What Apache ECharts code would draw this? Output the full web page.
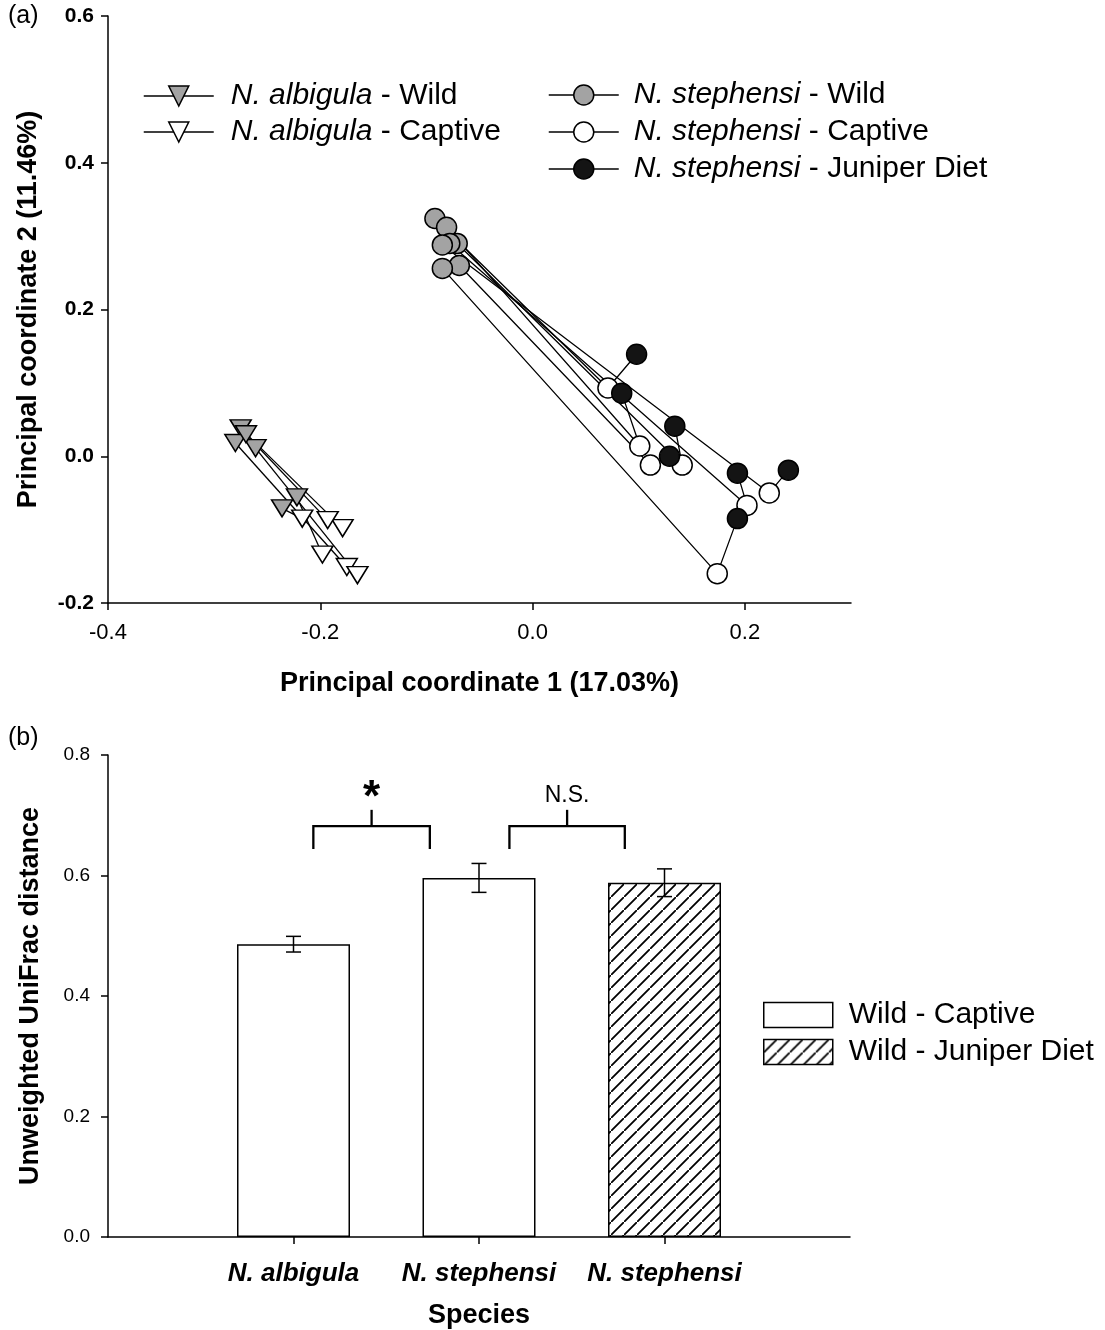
<!DOCTYPE html>
<html><head><meta charset="utf-8">
<script src="https://cdn.jsdelivr.net/npm/echarts@6/dist/echarts.min.js"></script>
<style>html,body{margin:0;padding:0;background:#fff}#c{width:1105px;height:1330px}</style>
</head><body><div id="c"></div>
<script>
// ---------- Panel (a) data: PCoA coordinates ----------
const albWild    = [[-0.275,0.038],[-0.280,0.018],[-0.261,0.011],[-0.270,0.030],[-0.222,-0.056],[-0.236,-0.071]];
const albCaptive = [[-0.179,-0.098],[-0.175,-0.151],[-0.165,-0.162],[-0.193,-0.087],[-0.198,-0.134],[-0.217,-0.085]];
const stWild     = [[-0.092,0.324],[-0.081,0.312],[-0.069,0.260],[-0.071,0.290],[-0.078,0.290],[-0.085,0.288],[-0.085,0.256]];
const stCaptive  = [[0.071,0.093],[0.101,0.014],[0.111,-0.012],[0.141,-0.012],[0.202,-0.067],[0.223,-0.050],[0.174,-0.160]];
const stJuniper  = [[0.098,0.139],[0.084,0.086],[0.129,0.000],[0.134,0.041],[0.193,-0.023],[0.241,-0.019],[0.193,-0.085]];
const pcoaXTicks = [-0.4,-0.2,0.0,0.2];
const groupNames = ['N. albigula - Wild','N. albigula - Captive','N. stephensi - Wild','N. stephensi - Captive','N. stephensi - Juniper Diet'];

// ---------- Panel (b) data: UniFrac distances ----------
const speciesLabels = ['N. albigula','N. stephensi','N. stephensi'];
const comparisonNames = ['Wild - Captive','Wild - Juniper Diet'];
const distMean = [0.486, 0.596, 0.588];
const distErr  = [0.013, 0.024, 0.023];
const distGroup = [0, 0, 1];
const bracketSpans = [[1.107,1.735],[2.164,2.786]];
const bracketLevels = [0.644, 0.682, 0.709];
const bracketLabels = ['*','N.S.'];
const bracketLabelY = [0.740, 0.732];

const FONT = "'Liberation Sans', Arial, sans-serif";
const chart = echarts.init(document.getElementById('c'), null, {renderer:'canvas'});

// hatch pattern
const T = 13;
const pc = document.createElement('canvas');
pc.width = T; pc.height = T;
const g = pc.getContext('2d');
g.fillStyle = '#fff'; g.fillRect(0,0,T,T);
g.strokeStyle = '#000'; g.lineWidth = 1.8;
g.beginPath();
g.moveTo(-2,T+2); g.lineTo(T+2,-2);
g.moveTo(-T-2,2+0); g.lineTo(2,-T-2);
g.moveTo(-2+T,2*T+2); g.lineTo(2*T+2,T-2);
g.stroke();
const hatch = {image: pc, repeat: 'repeat'};

const splitName = n => { const i = n.indexOf(' - '); return '{i|' + n.slice(0,i) + '}{r|' + n.slice(i) + '}'; };

const series = [];
// connection lines
albWild.forEach((w,i) => {
  series.push({type:'line', xAxisIndex:0, yAxisIndex:0, data:[w, albCaptive[i]], symbol:'none', silent:true,
    lineStyle:{color:'#000', width:1.3}, z:2, animation:false});
});
stWild.forEach((w,i) => {
  series.push({type:'line', xAxisIndex:0, yAxisIndex:0, data:[w, stCaptive[i], stJuniper[i]], symbol:'none', silent:true,
    lineStyle:{color:'#000', width:1.3}, z:2, animation:false});
});
// marker groups
const markerDefs = [
  {data: albWild, symbol:'triangle', rot:180, size:[21,17], fill:'#a3a3a3'},
  {data: albCaptive, symbol:'triangle', rot:180, size:[21,17], fill:'#ffffff'},
  {data: stWild, symbol:'circle', rot:0, size:20, fill:'#a3a3a3'},
  {data: stCaptive, symbol:'circle', rot:0, size:20, fill:'#ffffff'},
  {data: stJuniper, symbol:'circle', rot:0, size:20, fill:'#141414'}
];
markerDefs.forEach((d,k) => {
  series.push({type:'line', name: groupNames[k], xAxisIndex:0, yAxisIndex:0, data: d.data,
    symbol: d.symbol, symbolRotate: d.rot, symbolSize: d.size, showSymbol:true,
    itemStyle:{color: d.fill, borderColor:'#000', borderWidth:1.5, opacity:1},
    lineStyle:{opacity:0, width:0}, z:5 + k, animation:false});
});

// bars
comparisonNames.forEach((nm,k) => {
  series.push({type:'bar', name:nm, xAxisIndex:1, yAxisIndex:1, barWidth:113, barGap:'-100%',
    data: distMean.map((m,i) => distGroup[i] === k ? [i+1, m] : null).filter(v => v),
    itemStyle:{color: k === 0 ? '#ffffff' : hatch, borderColor:'#000', borderWidth:1.5},
    animation:false, z:2});
});
// error bars
series.push({type:'custom', xAxisIndex:1, yAxisIndex:1, silent:true, z:5, animation:false,
  data: distMean.map((m,i) => [i+1, m, distErr[i]]),
  encode:{x:0, y:1},
  renderItem: (params, api) => {
    const x = api.value(0), m = api.value(1), e = api.value(2);
    const t = api.coord([x, m+e]), b = api.coord([x, m-e]);
    const hw = 7.5, st = {stroke:'#000', lineWidth:1.5};
    return {type:'group', children:[
      {type:'line', shape:{x1:t[0], y1:t[1], x2:b[0], y2:b[1]}, style:st},
      {type:'line', shape:{x1:t[0]-hw, y1:t[1], x2:t[0]+hw, y2:t[1]}, style:st},
      {type:'line', shape:{x1:b[0]-hw, y1:b[1], x2:b[0]+hw, y2:b[1]}, style:st}
    ]};
  }
});
// significance brackets
series.push({type:'custom', xAxisIndex:1, yAxisIndex:1, silent:true, z:5, animation:false,
  data: bracketSpans.map((s,i) => [s[0], s[1], i]),
  encode:{x:[0,1]},
  renderItem: (params, api) => {
    const x1 = api.value(0), x2 = api.value(1), idx = api.value(2);
    const xm = (x1 + x2) / 2;
    const pL1 = api.coord([x1, bracketLevels[0]]), pH1 = api.coord([x1, bracketLevels[1]]);
    const pL2 = api.coord([x2, bracketLevels[0]]), pH2 = api.coord([x2, bracketLevels[1]]);
    const pM = api.coord([xm, bracketLevels[1]]), pS = api.coord([xm, bracketLevels[2]]);
    const pT = api.coord([xm, bracketLabelY[idx]]);
    const st = {stroke:'#000', lineWidth:2.3, fill:null};
    const star = bracketLabels[idx] === '*';
    return {type:'group', children:[
      {type:'polyline', shape:{points:[pL1, pH1, pH2, pL2]}, style:st},
      {type:'line', shape:{x1:pM[0], y1:pM[1], x2:pS[0], y2:pS[1]}, style:st},
      {type:'text', x:pT[0], y: star ? pT[1] + 8 : pT[1], style:{text: bracketLabels[idx], fill:'#000',
        font: star ? "bold 44px " + FONT : "23px " + FONT, textAlign:'center', textVerticalAlign:'middle'}}
    ]};
  }
});

const option = {
  backgroundColor:'#fff',
  textStyle:{fontFamily: FONT, color:'#000'},
  graphic:[
    {type:'text', left:8, top:4, style:{text:'(a)', font:'25px ' + FONT, fill:'#000'}},
    {type:'text', left:8, top:726, style:{text:'(b)', font:'25px ' + FONT, fill:'#000'}}
  ],
  legend:[
    {data: groupNames.slice(0,2), left:138, top:76, orient:'vertical', itemWidth:70, itemHeight:25, itemGap:6,
     selectedMode:false, formatter: splitName,
     lineStyle:{color:'#000', width:1.5, opacity:1, type:'solid'},
     itemStyle:{borderColor:'#000', borderWidth:1.5},
     textStyle:{padding:[0,0,0,12], lineHeight:30, rich:{i:{fontStyle:'italic', fontSize:30, fontFamily:FONT, color:'#000'}, r:{fontSize:30, fontFamily:FONT, color:'#000'}}}},
    {data: groupNames.slice(2), left:543, top:75, orient:'vertical', itemWidth:70, itemHeight:25, itemGap:7,
     selectedMode:false, formatter: splitName,
     lineStyle:{color:'#000', width:1.5, opacity:1, type:'solid'},
     itemStyle:{borderColor:'#000', borderWidth:1.5},
     textStyle:{padding:[0,0,0,10], lineHeight:30, rich:{i:{fontStyle:'italic', fontSize:30, fontFamily:FONT, color:'#000'}, r:{fontSize:30, fontFamily:FONT, color:'#000'}}}},
    {data: comparisonNames, left:758, top:995, orient:'vertical', itemWidth:69, itemHeight:25, itemGap:7,
     icon:'rect', selectedMode:false,
     itemStyle:{borderColor:'#000', borderWidth:1.5},
     textStyle:{fontSize:30, fontFamily:FONT, color:'#000', padding:[0,0,0,11], lineHeight:30}}
  ],
  grid:[
    {left:108, top:16, width:743, height:587},
    {left:108, top:755, width:742, height:482}
  ],
  xAxis:[
    {type:'value', gridIndex:0, min:-0.4, max:0.3, splitLine:{show:false},
     name:'Principal coordinate 1 (17.03%)', nameLocation:'middle', nameGap:67,
     nameTextStyle:{fontSize:27, fontWeight:'bold', fontFamily:FONT, color:'#000'},
     axisLine:{onZero:false, lineStyle:{color:'#000', width:1.5}},
     axisTick:{customValues: pcoaXTicks, length:7, lineStyle:{color:'#000', width:1.5}},
     axisLabel:{customValues: pcoaXTicks, fontSize:22, color:'#000', margin:19, formatter: v => v.toFixed(1)}},
    {type:'value', gridIndex:1, min:0, max:4, splitLine:{show:false},
     name:'Species', nameLocation:'middle', nameGap:65,
     nameTextStyle:{fontSize:27, fontWeight:'bold', fontFamily:FONT, color:'#000'},
     axisLine:{onZero:false, lineStyle:{color:'#000', width:1.5}},
     axisTick:{customValues:[1,2,3], length:7, lineStyle:{color:'#000', width:1.5}},
     axisLabel:{customValues:[1,2,3], fontSize:26, fontWeight:'bold', fontStyle:'italic', color:'#000', margin:24,
       formatter: v => speciesLabels[Math.round(v) - 1] || ''}}
  ],
  yAxis:[
    {type:'value', gridIndex:0, min:-0.2, max:0.6, interval:0.2, splitLine:{show:false},
     name:'Principal coordinate 2 (11.46%)', nameLocation:'middle', nameGap:66,
     nameTextStyle:{fontSize:27, fontWeight:'bold', fontFamily:FONT, color:'#000'},
     axisLine:{onZero:false, lineStyle:{color:'#000', width:1.5}},
     axisTick:{length:7, lineStyle:{color:'#000', width:1.5}},
     axisLabel:{fontSize:21, fontWeight:'bold', color:'#000', margin:14, formatter: v => v.toFixed(1)}},
    {type:'value', gridIndex:1, min:0, max:0.8, interval:0.2, splitLine:{show:false},
     name:'Unweighted UniFrac distance', nameLocation:'middle', nameGap:64,
     nameTextStyle:{fontSize:27, fontWeight:'bold', fontFamily:FONT, color:'#000'},
     axisLine:{onZero:false, lineStyle:{color:'#000', width:1.5}},
     axisTick:{length:7, lineStyle:{color:'#000', width:1.5}},
     axisLabel:{fontSize:19, color:'#000', margin:18, formatter: v => v.toFixed(1)}}
  ],
  series: series
};
chart.setOption(option);
</script>
</body></html>
